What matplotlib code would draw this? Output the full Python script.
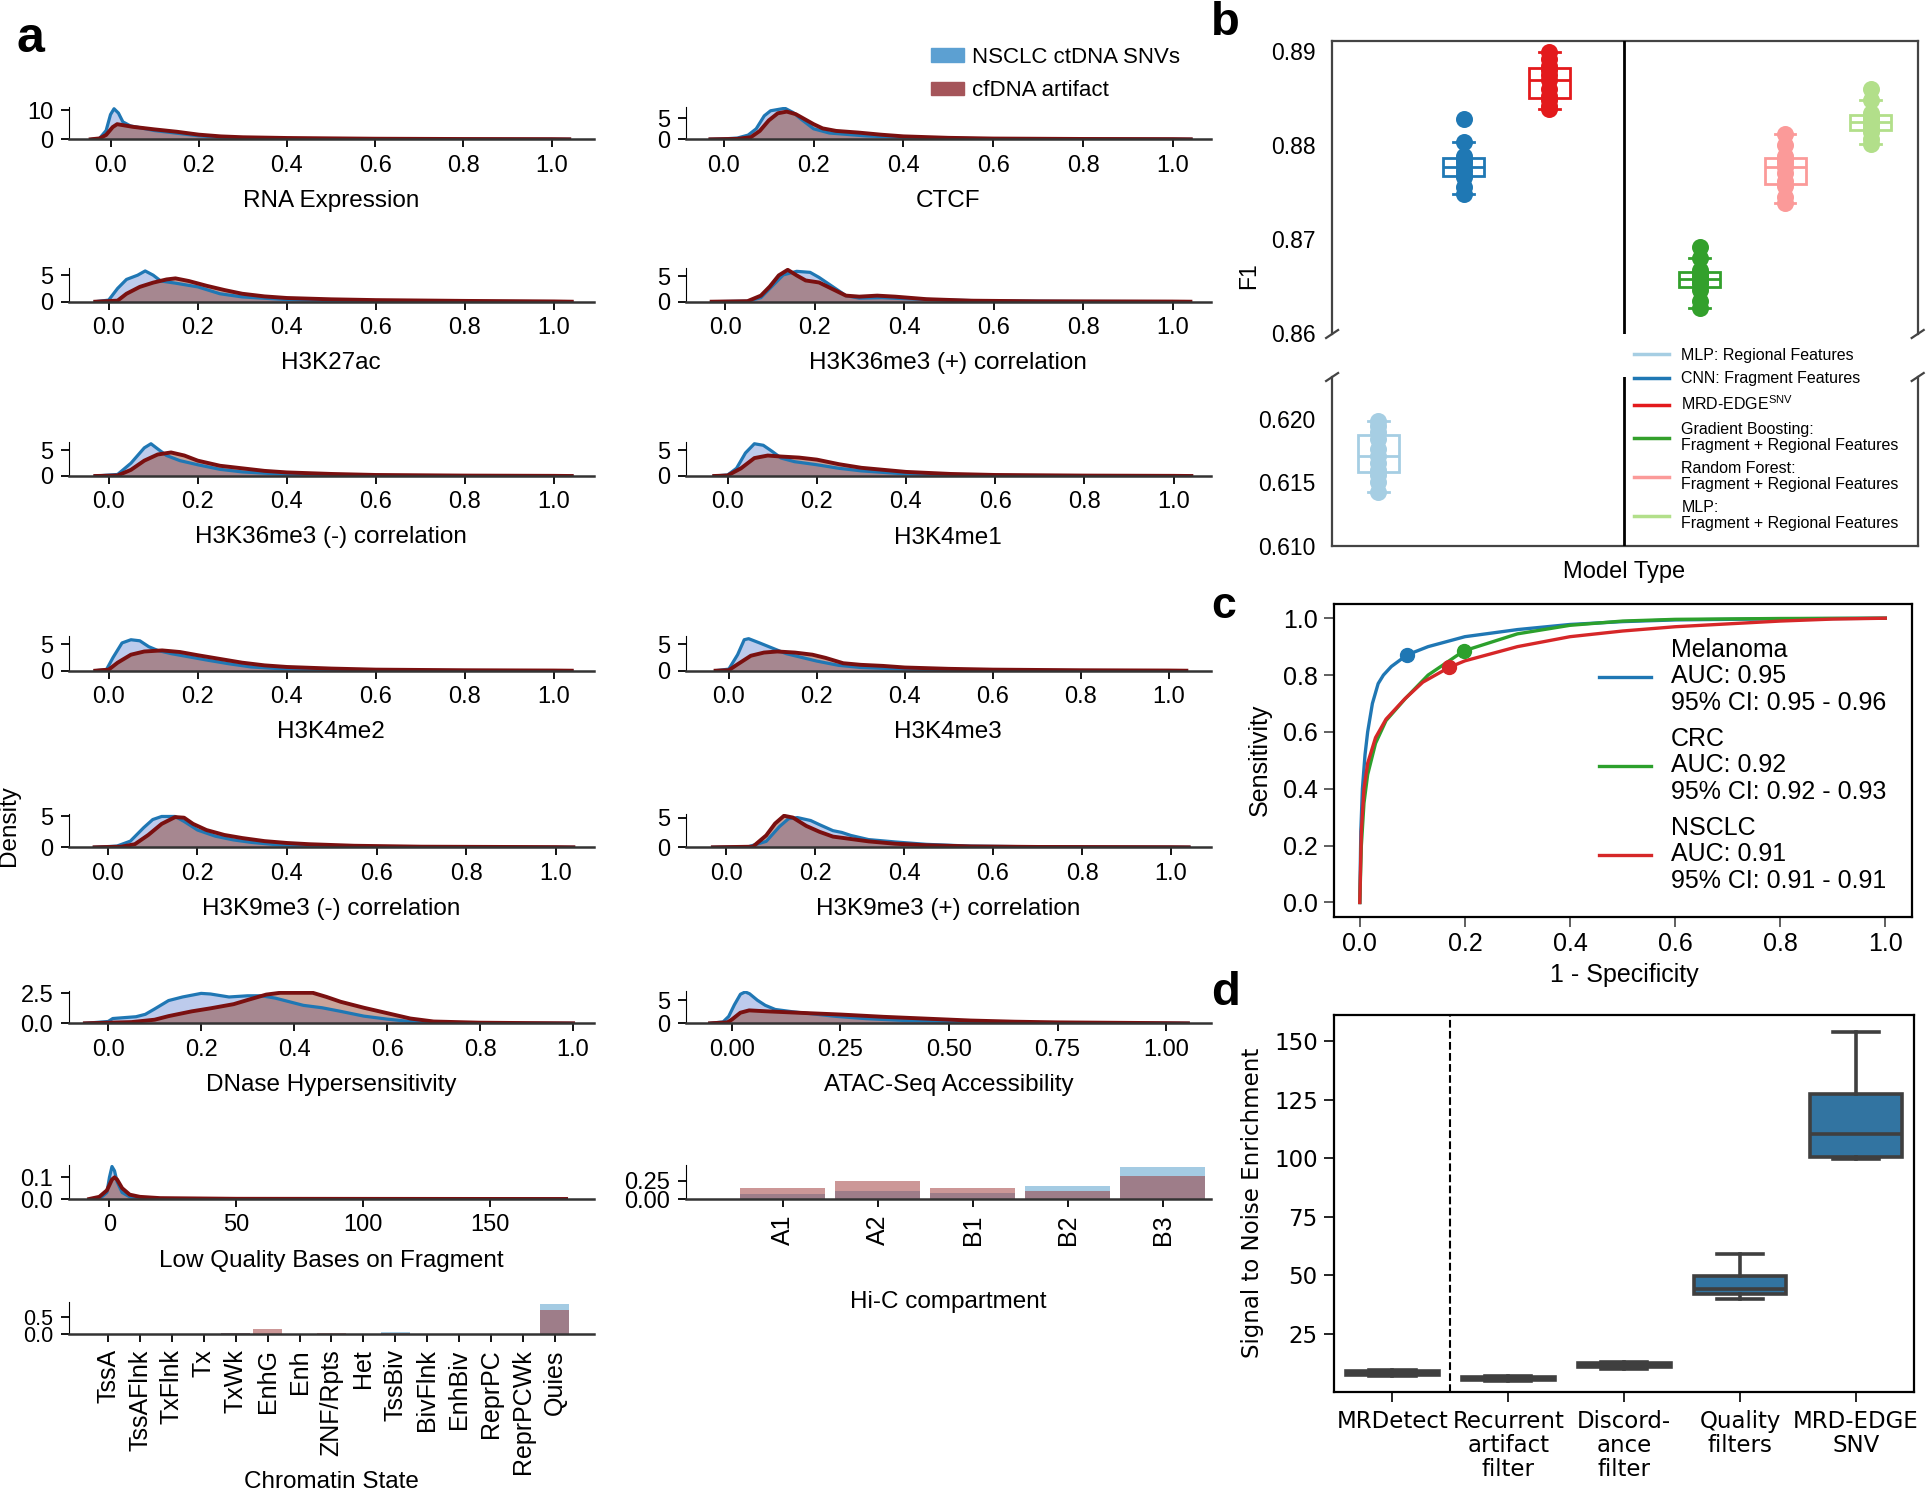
import matplotlib
matplotlib.use("Agg")
import matplotlib.pyplot as plt
import numpy as np
from matplotlib.patches import Patch
from matplotlib.lines import Line2D

plt.rcParams["font.family"] = ["Liberation Sans", "DejaVu Sans"]
plt.rcParams["mathtext.default"] = "regular"

W, H = 1927, 1492
fig = plt.figure(figsize=(W / 100, H / 100), dpi=100)
fig.patch.set_facecolor("white")


def px_axes(l, t, r, b):
    return fig.add_axes([l / W, 1 - b / H, (r - l) / W, (b - t) / H])


# ---------------- data: panel a (density curves) -------
rna_snv = [(-0.04, 0), (-0.025, 0.3), (-0.01, 3.0), (0.0, 8.5), (0.008, 10.5), (0.018, 9.0),
           (0.028, 6.0), (0.045, 4.6), (0.056, 4.3), (0.1, 3.0), (0.15, 2.1), (0.2, 1.2),
           (0.25, 0.7), (0.3, 0.4), (0.4, 0.2), (0.5, 0.1), (0.6, 0.05), (0.8, 0.02), (1.0, 0.01), (1.04, 0)]
rna_art = [(-0.045, 0), (-0.025, 0.3), (-0.01, 1.5), (0.005, 4.2), (0.015, 5.2), (0.05, 4.3),
           (0.1, 3.4), (0.15, 2.6), (0.2, 1.6), (0.25, 1.0), (0.3, 0.7), (0.4, 0.45), (0.5, 0.32),
           (0.6, 0.2), (0.8, 0.1), (1.0, 0.05), (1.04, 0)]
ctcf_snv = [(-0.03, 0), (0.0, 0.1), (0.03, 0.3), (0.054, 1.0), (0.072, 2.5), (0.09, 5.6), (0.104, 6.8),
            (0.136, 7.4), (0.154, 6.4), (0.172, 4.8), (0.2, 2.5), (0.235, 1.5), (0.317, 0.8),
            (0.4, 0.45), (0.5, 0.25), (0.6, 0.12), (0.8, 0.05), (1.0, 0.02), (1.04, 0)]
ctcf_art = [(-0.03, 0), (0.03, 0.1), (0.06, 0.5), (0.08, 2.0), (0.1, 4.5), (0.12, 6.2), (0.14, 6.6),
            (0.16, 6.0), (0.18, 4.8), (0.2, 3.6), (0.22, 2.6), (0.25, 2.0), (0.3, 1.6), (0.35, 1.1),
            (0.4, 0.7), (0.5, 0.35), (0.6, 0.18), (0.8, 0.08), (1.0, 0.04), (1.04, 0)]
k27ac_snv = [(-0.03, 0), (0.0, 0.3), (0.02, 2.5), (0.04, 4.2), (0.065, 5.0), (0.082, 5.8), (0.1, 5.0),
             (0.117, 3.9), (0.15, 3.5), (0.2, 2.8), (0.25, 1.5), (0.3, 0.9), (0.4, 0.4), (0.5, 0.22),
             (0.6, 0.13), (0.8, 0.05), (1.0, 0.02), (1.04, 0)]
k27ac_art = [(-0.03, 0), (0.02, 0.2), (0.04, 1.5), (0.07, 2.8), (0.1, 3.6), (0.13, 4.2), (0.15, 4.4),
             (0.18, 3.9), (0.22, 3.0), (0.26, 2.2), (0.3, 1.5), (0.35, 1.0), (0.4, 0.7), (0.5, 0.45),
             (0.6, 0.3), (0.8, 0.15), (1.0, 0.05), (1.04, 0)]
k36p_snv = [(-0.03, 0), (0.05, 0.1), (0.08, 0.8), (0.11, 3.5), (0.13, 5.3), (0.16, 6.0), (0.19, 5.8),
            (0.21, 4.8), (0.24, 3.0), (0.27, 1.2), (0.3, 0.7), (0.35, 0.8), (0.4, 0.6), (0.5, 0.3),
            (0.6, 0.15), (0.8, 0.05), (1.0, 0.02), (1.04, 0)]
k36p_art = [(-0.03, 0), (0.05, 0.1), (0.08, 1.2), (0.1, 3.0), (0.12, 5.2), (0.14, 6.3), (0.16, 5.2),
            (0.18, 4.2), (0.21, 3.8), (0.24, 2.5), (0.27, 1.2), (0.3, 1.0), (0.34, 1.2), (0.38, 1.0),
            (0.45, 0.5), (0.55, 0.2), (0.7, 0.08), (1.0, 0.03), (1.04, 0)]
k36n_snv = [(-0.03, 0), (0.02, 0.3), (0.05, 2.5), (0.08, 5.5), (0.095, 6.3), (0.11, 5.3), (0.13, 4.0),
            (0.16, 3.0), (0.2, 2.2), (0.25, 1.3), (0.3, 0.8), (0.4, 0.3), (0.5, 0.15), (0.7, 0.05), (1.04, 0)]
k36n_art = [(-0.03, 0), (0.02, 0.1), (0.05, 1.2), (0.08, 3.0), (0.11, 4.2), (0.14, 4.6), (0.17, 4.0),
            (0.2, 3.0), (0.25, 2.0), (0.3, 1.5), (0.35, 1.0), (0.4, 0.7), (0.5, 0.4), (0.6, 0.2),
            (0.8, 0.08), (1.0, 0.03), (1.04, 0)]
k4me1_snv = [(-0.03, 0), (0.0, 0.2), (0.02, 1.5), (0.04, 4.5), (0.06, 6.3), (0.08, 6.0), (0.1, 4.8),
             (0.12, 3.5), (0.15, 2.8), (0.2, 2.2), (0.25, 1.5), (0.3, 1.0), (0.4, 0.4), (0.5, 0.2),
             (0.7, 0.05), (1.04, 0)]
k4me1_art = [(-0.03, 0), (0.0, 0.1), (0.03, 1.5), (0.06, 3.5), (0.09, 4.0), (0.12, 3.8), (0.16, 3.6),
             (0.2, 3.2), (0.25, 2.3), (0.3, 1.6), (0.35, 1.2), (0.4, 0.8), (0.5, 0.4), (0.6, 0.2),
             (0.8, 0.08), (1.0, 0.03), (1.04, 0)]
k4me2_snv = [(-0.03, 0), (-0.005, 0.2), (0.01, 2.5), (0.03, 5.2), (0.05, 5.8), (0.07, 5.6), (0.09, 4.5),
             (0.11, 3.8), (0.14, 3.2), (0.18, 2.6), (0.22, 2.0), (0.27, 1.3), (0.32, 0.7), (0.4, 0.3),
             (0.5, 0.15), (0.7, 0.05), (1.04, 0)]
k4me2_art = [(-0.03, 0), (0.0, 0.2), (0.02, 1.5), (0.05, 3.0), (0.08, 3.6), (0.12, 3.8), (0.16, 3.5),
             (0.2, 2.9), (0.25, 2.2), (0.3, 1.5), (0.35, 1.0), (0.4, 0.7), (0.5, 0.4), (0.6, 0.2),
             (0.8, 0.08), (1.0, 0.03), (1.04, 0)]
k4me3_snv = [(-0.03, 0), (0.0, 0.3), (0.02, 3.0), (0.035, 5.8), (0.045, 6.0), (0.07, 5.2), (0.1, 4.2),
             (0.13, 3.2), (0.17, 2.4), (0.2, 1.8), (0.25, 1.0), (0.3, 0.6), (0.4, 0.3), (0.5, 0.15),
             (0.7, 0.05), (1.04, 0)]
k4me3_art = [(-0.03, 0), (0.0, 0.1), (0.02, 1.2), (0.05, 2.8), (0.08, 3.4), (0.11, 3.6), (0.15, 3.4),
             (0.19, 3.0), (0.22, 2.4), (0.26, 1.4), (0.3, 1.1), (0.35, 0.9), (0.4, 0.6), (0.5, 0.35),
             (0.6, 0.2), (0.8, 0.08), (1.0, 0.03), (1.04, 0)]
k9n_snv = [(-0.03, 0), (0.02, 0.2), (0.05, 1.0), (0.08, 3.2), (0.1, 4.5), (0.12, 5.0), (0.15, 5.0),
           (0.17, 4.2), (0.2, 2.8), (0.24, 1.8), (0.28, 1.2), (0.32, 0.8), (0.38, 0.4), (0.45, 0.2),
           (0.6, 0.05), (1.04, 0)]
k9n_art = [(-0.03, 0), (0.03, 0.1), (0.06, 0.5), (0.09, 2.0), (0.12, 3.8), (0.15, 4.9), (0.17, 4.8),
           (0.19, 3.8), (0.22, 2.8), (0.26, 2.0), (0.3, 1.5), (0.35, 1.0), (0.4, 0.7), (0.45, 0.5),
           (0.55, 0.25), (0.7, 0.1), (1.0, 0.03), (1.04, 0)]
k9p_snv = [(-0.03, 0), (0.05, 0.1), (0.09, 1.0), (0.12, 3.5), (0.14, 4.8), (0.16, 5.0), (0.19, 4.5),
           (0.21, 3.8), (0.24, 2.8), (0.26, 2.5), (0.28, 2.0), (0.32, 1.3), (0.38, 0.9), (0.45, 0.5),
           (0.55, 0.2), (0.7, 0.08), (1.0, 0.02), (1.04, 0)]
k9p_art = [(-0.03, 0), (0.06, 0.1), (0.09, 2.0), (0.11, 4.0), (0.13, 5.3), (0.15, 5.0), (0.18, 3.6),
           (0.21, 2.6), (0.24, 1.8), (0.28, 1.4), (0.32, 1.0), (0.38, 0.6), (0.45, 0.35), (0.55, 0.15),
           (0.7, 0.06), (1.0, 0.02), (1.04, 0)]
dnase_snv = [(-0.05, 0), (0.0, 0.15), (0.01, 0.4), (0.06, 0.55), (0.08, 0.75), (0.1, 1.2), (0.13, 1.9),
             (0.16, 2.2), (0.2, 2.5), (0.22, 2.45), (0.26, 2.2), (0.3, 2.3), (0.33, 2.3), (0.36, 2.1),
             (0.38, 1.9), (0.42, 1.5), (0.46, 1.3), (0.5, 1.0), (0.55, 0.6), (0.6, 0.35), (0.65, 0.15),
             (0.7, 0.05), (0.8, 0.01), (1.0, 0)]
dnase_art = [(-0.05, 0), (0.05, 0.1), (0.1, 0.3), (0.13, 0.6), (0.18, 1.0), (0.22, 1.25), (0.27, 1.6),
             (0.3, 1.95), (0.34, 2.4), (0.37, 2.55), (0.4, 2.55), (0.44, 2.55), (0.47, 2.2), (0.5, 1.8),
             (0.55, 1.3), (0.6, 0.85), (0.65, 0.4), (0.7, 0.15), (0.8, 0.05), (0.9, 0.02), (1.0, 0)]
atac_snv = [(-0.05, 0), (-0.02, 0.3), (-0.007, 1.5), (0.006, 4.0), (0.02, 6.3), (0.031, 6.8), (0.041, 6.4),
            (0.059, 5.0), (0.077, 3.9), (0.1, 3.0), (0.14, 2.5), (0.19, 2.0), (0.24, 1.5), (0.31, 1.0),
            (0.4, 0.6), (0.5, 0.4), (0.6, 0.2), (0.75, 0.1), (1.0, 0.03), (1.05, 0)]
atac_art = [(-0.05, 0), (-0.01, 0.2), (0.0, 0.8), (0.02, 2.3), (0.04, 2.8), (0.08, 2.6), (0.15, 2.3),
            (0.25, 1.9), (0.35, 1.4), (0.45, 1.0), (0.55, 0.6), (0.65, 0.35), (0.75, 0.2), (0.9, 0.1),
            (1.05, 0)]
lowq_snv = [(-4, 0), (-1, 0.03), (0, 0.1), (1, 0.15), (2, 0.13), (3, 0.08), (5, 0.03), (8, 0.01),
            (15, 0.002), (180, 0)]
lowq_art = [(-8, 0), (-4, 0.01), (-1, 0.04), (1, 0.09), (2, 0.1), (3, 0.09), (5, 0.05), (8, 0.02),
            (12, 0.01), (20, 0.004), (50, 0.001), (180, 0)]

chromatin_states = ["TssA", "TssAFlnk", "TxFlnk", "Tx", "TxWk", "EnhG", "Enh", "ZNF/Rpts", "Het",
                    "TssBiv", "BivFlnk", "EnhBiv", "ReprPC", "ReprPCWk", "Quies"]
chromatin_snv = [0, 0, 0, 0.005, 0.02, 0.01, 0.005, 0.01, 0.005, 0.06, 0, 0, 0.005, 0.005, 0.86]
chromatin_art = [0, 0, 0, 0.005, 0.03, 0.15, 0.01, 0.02, 0.01, 0.03, 0, 0, 0.005, 0.005, 0.69]
hic_compartments = ["A1", "A2", "B1", "B2", "B3"]
hic_snv = [0.068, 0.109, 0.086, 0.182, 0.432]
hic_art = [0.146, 0.245, 0.155, 0.114, 0.314]

# ---------------- data: panel b ---------------------------------------------
model_names = ["MLP: Regional Features", "CNN: Fragment Features", "MRD-EDGE$^{SNV}$",
               "Gradient Boosting:\nFragment + Regional Features",
               "Random Forest:\nFragment + Regional Features",
               "MLP:\nFragment + Regional Features"]
f1_mlp_regional = [0.6142, 0.6150, 0.6156, 0.6160, 0.6165, 0.6171, 0.6176, 0.6184, 0.6190, 0.6194, 0.6198]
f1_cnn = [0.8748, 0.8755, 0.8766, 0.8768, 0.8772, 0.8777, 0.8781, 0.8784, 0.8788, 0.8803, 0.8828]
f1_mrd_edge = [0.8838, 0.8842, 0.8848, 0.8852, 0.8860, 0.8869, 0.8874, 0.8880, 0.8884, 0.8892, 0.8899]
f1_gb = [0.8627, 0.8634, 0.8646, 0.8652, 0.8655, 0.8657, 0.8660, 0.8663, 0.8667, 0.8680, 0.8692]
f1_rf = [0.8738, 0.8745, 0.8756, 0.8762, 0.8770, 0.8777, 0.8781, 0.8784, 0.8788, 0.8800, 0.8812]
f1_mlp_frag = [0.8801, 0.8806, 0.8814, 0.8818, 0.8822, 0.8825, 0.8828, 0.8830, 0.8834, 0.8848, 0.8860]

# ---------------- data: panel c (ROC) ----------------------------------------
mel_fpr = [0, 0.002, 0.005, 0.01, 0.015, 0.024, 0.035, 0.045, 0.06, 0.09, 0.13, 0.2, 0.3, 0.4, 0.5, 0.6, 0.8, 1.0]
mel_tpr = [0, 0.25, 0.4, 0.52, 0.6, 0.7, 0.77, 0.8, 0.83, 0.871, 0.9, 0.935, 0.96, 0.978, 0.988, 0.994, 0.998, 1.0]
crc_fpr = [0, 0.003, 0.008, 0.015, 0.03, 0.05, 0.088, 0.13, 0.198, 0.3, 0.4, 0.5, 0.6, 0.8, 1.0]
crc_tpr = [0, 0.2, 0.35, 0.45, 0.56, 0.64, 0.72, 0.8, 0.885, 0.945, 0.975, 0.99, 0.996, 0.999, 1.0]
nsclc_fpr = [0, 0.003, 0.008, 0.015, 0.03, 0.05, 0.085, 0.12, 0.17, 0.2, 0.3, 0.4, 0.5, 0.6, 0.7, 0.8, 0.9, 1.0]
nsclc_tpr = [0, 0.25, 0.4, 0.49, 0.58, 0.645, 0.715, 0.775, 0.827, 0.85, 0.9, 0.935, 0.955, 0.97, 0.98, 0.99, 0.997, 1.0]
operating_points = [(0.09, 0.871), (0.198, 0.885), (0.17, 0.827)]
roc_labels = ["Melanoma\nAUC: 0.95\n95% CI: 0.95 - 0.96",
              "CRC\nAUC: 0.92\n95% CI: 0.92 - 0.93",
              "NSCLC\nAUC: 0.91\n95% CI: 0.91 - 0.91"]

# ---------------- data: panel d ---------------------------------------------
snr_categories = ["MRDetect", "Recurrent\nartifact\nfilter", "Discord-\nance\nfilter",
                  "Quality\nfilters", "MRD-EDGE\nSNV"]
snr_mrdetect = [7.3, 7.6, 8.5, 9.2, 9.5]
snr_recurrent = [5.0, 5.4, 6.0, 6.5, 6.9]
snr_discordance = [10.2, 10.9, 11.6, 12.5, 12.9]
snr_quality = [39.9, 42.0, 44.0, 49.8, 59.2]
snr_mrd_edge = [99.6, 100.7, 110.3, 127.3, 153.9]

# ================= panel a =====================================================
SNV_LINE, ART_LINE = "#1f77b4", "#7a1010"
SNV_FILL, ART_FILL = "#5b7fd0", "#8a3520"
BAR_SNV, BAR_ART = "#4a98c9", "#9a3030"
FS_TICK, FS_LAB = 17, 17.5

LC, RC = (68.6, 594), (685.7, 1211)
ROWS = [(107, 139.3), (268.3, 301.7), (441.7, 476), (636, 670.7),
        (814, 847.3), (991, 1023.3), (1165, 1199), (1301.7, 1334)]
dec = [0, 0.2, 0.4, 0.6, 0.8, 1.0]
dec_lab = ["0.0", "0.2", "0.4", "0.6", "0.8", "1.0"]


def style_a(ax, ytop, yticks, ylabels, xlabel, off):
    ax.set_ylim(0, ytop)
    ax.set_yticks(yticks, ylabels)
    ax.spines[["top", "right"]].set_visible(False)
    ax.spines["bottom"].set_linewidth(1.8)
    ax.spines["bottom"].set_color("#333333")
    ax.tick_params(labelsize=FS_TICK, length=6, width=1.3, pad=5)
    ax.set_xlabel(xlabel, fontsize=FS_LAB, va="center")
    h = ax.get_position().height * H
    ax.xaxis.set_label_coords(0.5, -off / h)


def dens(col, row, snv, art, xlim, ytop, yticks, ylabels, name,
         xticks=dec, xlabels=dec_lab):
    ax = px_axes(col[0], ROWS[row][0], col[1], ROWS[row][1])
    for pts, fc, a in ((snv, SNV_FILL, 0.4), (art, ART_FILL, 0.45)):
        x, y = np.array(pts, dtype=float).T
        ax.fill_between(x, y, color=fc, alpha=a, lw=0, zorder=1)
    for pts, lc, lw in ((snv, SNV_LINE, 2.3), (art, ART_LINE, 2.8)):
        x, y = np.array(pts, dtype=float).T
        ax.plot(x, y, color=lc, lw=lw, zorder=2)
    ax.set_xlim(*xlim)
    ax.set_xticks(xticks, xlabels)
    style_a(ax, ytop, yticks, ylabels, name, 61.5)
    return ax


dens(LC, 0, rna_snv, rna_art, (-0.095, 1.096), 11.1, [0, 10], ["0", "10"], "RNA Expression")
dens(RC, 0, ctcf_snv, ctcf_art, (-0.085, 1.085), 7.7, [0, 5], ["0", "5"], "CTCF")
dens(LC, 1, k27ac_snv, k27ac_art, (-0.09, 1.09), 6.3, [0, 5], ["0", "5"], "H3K27ac")
dens(RC, 1, k36p_snv, k36p_art, (-0.088, 1.086), 6.6, [0, 5], ["0", "5"], "H3K36me3 (+) correlation")
dens(LC, 2, k36n_snv, k36n_art, (-0.09, 1.09), 6.7, [0, 5], ["0", "5"], "H3K36me3 (-) correlation")
dens(RC, 2, k4me1_snv, k4me1_art, (-0.094, 1.084), 6.7, [0, 5], ["0", "5"], "H3K4me1")
dens(LC, 3, k4me2_snv, k4me2_art, (-0.09, 1.09), 6.5, [0, 5], ["0", "5"], "H3K4me2")
dens(RC, 3, k4me3_snv, k4me3_art, (-0.098, 1.096), 6.5, [0, 5], ["0", "5"], "H3K4me3")
dens(LC, 4, k9n_snv, k9n_art, (-0.088, 1.086), 5.4, [0, 5], ["0", "5"], "H3K9me3 (-) correlation")
dens(RC, 4, k9p_snv, k9p_art, (-0.091, 1.09), 5.6, [0, 5], ["0", "5"], "H3K9me3 (+) correlation")
dens(LC, 5, dnase_snv, dnase_art, (-0.085, 1.045), 2.7, [0, 2.5], ["0.0", "2.5"], "DNase Hypersensitivity")
dens(RC, 5, atac_snv, atac_art, (-0.106, 1.103), 7.0, [0, 5], ["0", "5"], "ATAC-Seq Accessibility",
     xticks=[0, 0.25, 0.5, 0.75, 1.0], xlabels=["0.00", "0.25", "0.50", "0.75", "1.00"])
dens(LC, 6, lowq_snv, lowq_art, (-16.1, 191), 0.157, [0, 0.1], ["0.0", "0.1"],
     "Low Quality Bases on Fragment", xticks=[0, 50, 100, 150], xlabels=["0", "50", "100", "150"])

# Hi-C compartment bars
ax = px_axes(RC[0], ROWS[6][0], RC[1], ROWS[6][1])
xi = np.arange(len(hic_compartments))
ax.bar(xi, hic_snv, width=0.9, color=BAR_SNV, alpha=0.5, lw=0)
ax.bar(xi, hic_art, width=0.9, color=BAR_ART, alpha=0.5, lw=0)
ax.set_xlim(-1.02, 4.51)
ax.set_xticks(xi, hic_compartments, rotation=90)
style_a(ax, 0.464, [0, 0.25], ["0.00", "0.25"], "Hi-C compartment", 103)
ax.tick_params(axis="x", labelsize=18)

# chromatin state bars
ax = px_axes(LC[0], ROWS[7][0], LC[1], ROWS[7][1])
xi = np.arange(len(chromatin_states))
ax.bar(xi, chromatin_snv, width=0.9, color=BAR_SNV, alpha=0.5, lw=0)
ax.bar(xi, chromatin_art, width=0.9, color=BAR_ART, alpha=0.5, lw=0)
ax.set_xlim(-1.24, 15.23)
ax.set_xticks(xi, chromatin_states, rotation=90)
style_a(ax, 0.934, [0, 0.5], ["0.0", "0.5"], "Chromatin State", 148)
ax.tick_params(axis="x", labelsize=18)
ax.tick_params(axis="y", labelsize=15.5)

fig.text(9 / W, 1 - 826 / H, "Density", rotation=90, ha="center", va="center", fontsize=FS_LAB)
fig.legend(handles=[Patch(color="#5ca0d2"), Patch(color="#a5555a")],
           labels=["NSCLC ctDNA SNVs", "cfDNA artifact"], loc="upper left",
           bbox_to_anchor=(931 / W, 1 - 47 / H), frameon=False, fontsize=16,
           handlelength=1.5, handleheight=0.55, handletextpad=0.35, labelspacing=0.55,
           borderpad=0, borderaxespad=0)

# ================= panel b =====================================================
f1_scores = [f1_mlp_regional, f1_cnn, f1_mrd_edge, f1_gb, f1_rf, f1_mlp_frag]
model_colors = ["#a6cee3", "#1f78b4", "#e31a1c", "#33a02c", "#fb9a99", "#b2df8a"]
pos = [0, 1, 2, 3.76, 4.76, 5.76]
ax_top = px_axes(1332.1, 40.7, 1917.7, 334)
ax_bot = px_axes(1332.1, 377, 1917.7, 545.7)
for ax in (ax_top, ax_bot):
    for vals, p, c in zip(f1_scores, pos, model_colors):
        ax.scatter(np.full(len(vals), p), vals, s=150, color=c, lw=0, zorder=2)
    bp = ax.boxplot(f1_scores, positions=pos, widths=0.48, showfliers=False,
                    patch_artist=True, zorder=3)
    for i, c in enumerate(model_colors):
        bp["boxes"][i].set(facecolor="none", edgecolor=c, linewidth=2)
        bp["medians"][i].set(color=c, linewidth=2)
        for art in bp["whiskers"][2 * i:2 * i + 2] + bp["caps"][2 * i:2 * i + 2]:
            art.set(color=c, linewidth=2)
    ax.axvline(2.88, color="black", lw=2, zorder=4)
    ax.set_xlim(-0.54, 6.31)
    ax.set_xticks([])
    for s in ax.spines.values():
        s.set_color("#444444")
        s.set_linewidth(1.6)
    ax.tick_params(axis="y", length=0, pad=12, labelsize=16.5)

ax_top.set_ylim(0.8599, 0.8911)
ax_top.set_yticks([0.86, 0.87, 0.88, 0.89], ["0.86", "0.87", "0.88", "0.89"])
ax_top.spines["bottom"].set_visible(False)
ax_bot.set_ylim(0.610, 0.6233)
ax_bot.set_yticks([0.610, 0.615, 0.620], ["0.610", "0.615", "0.620"])
ax_bot.spines["top"].set_visible(False)

kw = dict(color="#444444", clip_on=False, lw=1.6)
dx = 6 / 585.6
for ax, hpx, yv in ((ax_top, 293.3, 0), (ax_bot, 168.7, 1)):
    dy = 4 / hpx
    for xv in (0, 1):
        ax.plot((xv - dx, xv + dx), (yv - dy, yv + dy), transform=ax.transAxes, **kw)

fig.text(1249 / W, 1 - 276 / H, "F1", rotation=90, ha="center", va="center", fontsize=16.5)
fig.text(1624 / W, 1 - 572 / H, "Model Type", ha="center", va="center", fontsize=17)
leg_b = fig.legend(handles=[Line2D([], [], color=c, lw=2.5) for c in model_colors], labels=model_names,
                   loc="upper left", bbox_to_anchor=(1633.5 / W, 1 - 348 / H), frameon=False,
                   fontsize=11.5, handlelength=2.2, handletextpad=0.8, labelspacing=0.52,
                   borderpad=0, borderaxespad=0)
for t in leg_b.get_texts():
    t.set_linespacing(1.08)

# ================= panel c =====================================================
ax_c = px_axes(1333.5, 604, 1911.6, 916.7)
roc_colors = ["#1f77b4", "#2ca02c", "#d62728"]
lines = []
for fpr, tpr, c in zip([mel_fpr, crc_fpr, nsclc_fpr], [mel_tpr, crc_tpr, nsclc_tpr], roc_colors):
    ln, = ax_c.plot(fpr, tpr, color=c, lw=2.4)
    lines.append(ln)
for op, c in zip(operating_points, roc_colors):
    ax_c.plot(op[0], op[1], "o", color=c, ms=10, zorder=5)
ax_c.set_xlim(-0.05, 1.05)
ax_c.set_ylim(-0.05, 1.05)
ax_c.set_xticks(dec, dec_lab)
ax_c.set_yticks(dec, dec_lab)
ax_c.tick_params(labelsize=18, length=7, width=1.2, color="#444444", pad=4)
for s in ax_c.spines.values():
    s.set_linewidth(1.6)
fig.text(1260 / W, 1 - 760 / H, "Sensitivity", rotation=90, ha="center", va="center", fontsize=18)
fig.text(1624 / W, 1 - 975 / H, "1 - Specificity", ha="center", va="center", fontsize=18)
leg_c = ax_c.legend(lines, roc_labels, loc="upper left", bbox_to_anchor=(1598.7 / W, 1 - 638 / H),
                    bbox_transform=fig.transFigure, frameon=False, fontsize=18, handlelength=2.1,
                    handletextpad=0.8, labelspacing=0.5, borderpad=0, borderaxespad=0)
for t in leg_c.get_texts():
    t.set_linespacing(1.12)

# ================= panel d =====================================================
DJ = ["DejaVu Sans"]
snr_values = [snr_mrdetect, snr_recurrent, snr_discordance, snr_quality, snr_mrd_edge]
ax_d = px_axes(1334.4, 1015, 1914, 1391.7)
bp = ax_d.boxplot(snr_values, positions=np.arange(5), widths=0.8, showfliers=False,
                  patch_artist=True, capwidths=0.4)
for b in bp["boxes"]:
    b.set(facecolor="#3274a1", edgecolor="#3f3f3f", linewidth=2.6)
for art in bp["medians"] + bp["whiskers"] + bp["caps"]:
    art.set(color="#3f3f3f", linewidth=2.6)
ax_d.axvline(0.5, color="black", ls="--", lw=1.5)
ax_d.set_xlim(-0.5, 4.5)
ax_d.set_ylim(0.4, 161.1)
ax_d.set_yticks([25, 50, 75, 100, 125, 150])
ax_d.set_xticks(np.arange(5), snr_categories, family=DJ, fontsize=16.5, linespacing=1.05)
for t in ax_d.get_yticklabels():
    t.set_family(DJ)
ax_d.tick_params(labelsize=16.5, length=7, width=1.2, pad=5)
ax_d.tick_params(axis="x", pad=6)
for s in ax_d.spines.values():
    s.set_linewidth(1.6)
fig.text(1253 / W, 1 - 1203 / H, "Signal to Noise Enrichment", rotation=90, ha="center",
         va="center", fontsize=16.5, family=DJ)

# ================= panel letters ================================================
for letter, x, y, fs in (("a", 16, 52, 36), ("b", 1211, 35, 34), ("c", 1211, 618, 32), ("d", 1211, 1005, 34)):
    fig.text(x / W, 1 - y / H, letter, fontsize=fs, fontweight="bold", ha="left", va="baseline")

fig.savefig("out.png", dpi=100, facecolor="white")
